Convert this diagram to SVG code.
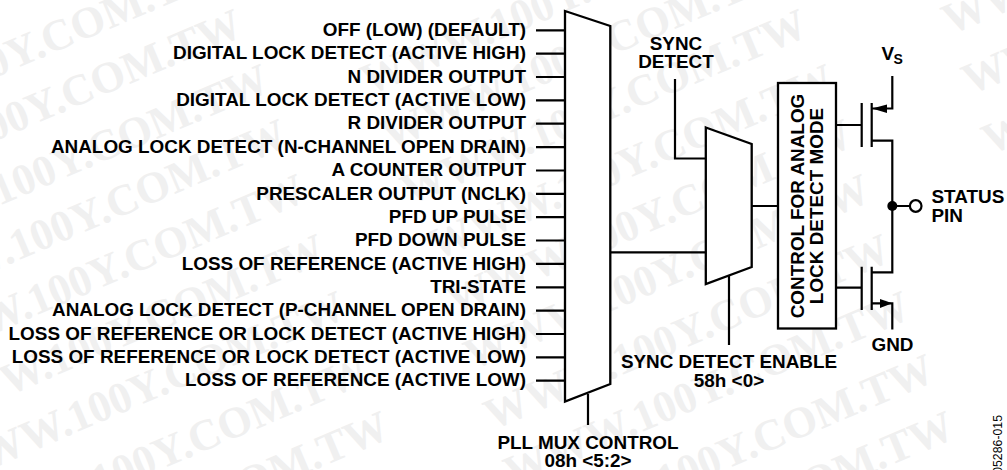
<svg xmlns="http://www.w3.org/2000/svg" width="1007" height="470" viewBox="0 0 1007 470">
<defs><text id="wm" class="w">WWW.100Y.COM.TW</text></defs>
<style>
text{font-family:"Liberation Sans",Arial,sans-serif;font-weight:700;font-size:18.9px;fill:#000}
.r{text-anchor:end}.m{text-anchor:middle}
.w{font-family:"Liberation Serif","Times New Roman",serif;font-size:44px;fill:#f0f0f0;text-anchor:end}
.s{text-anchor:start}
.l{fill:none;stroke:#000;stroke-width:2.2}
.b{fill:#fff;stroke:#000;stroke-width:2.3}
</style>
<rect width="1007" height="470" fill="#fff"/>
<g id="watermark">
<text class="w" transform="translate(225,-20) rotate(-23)">WWW.100Y.COM.TW</text>
<text class="w" transform="translate(245,35) rotate(-23)">WWW.100Y.COM.TW</text>
<text class="w" transform="translate(272,90) rotate(-23)">WWW.100Y.COM.TW</text>
<text class="w" transform="translate(290,145) rotate(-23)">WWW.100Y.COM.TW</text>
<text class="w" transform="translate(308,200) rotate(-23)">WWW.100Y.COM.TW</text>
<text class="w" transform="translate(328,260) rotate(-23)">WWW.100Y.COM.TW</text>
<text class="w" transform="translate(348,317) rotate(-23)">WWW.100Y.COM.TW</text>
<text class="w" transform="translate(372,380) rotate(-23)">WWW.100Y.COM.TW</text>
<text class="w" transform="translate(392,437) rotate(-23)">WWW.100Y.COM.TW</text>
<text class="w" transform="translate(770,-75) rotate(-23)">WWW.100Y.COM.TW</text>
<text class="w" transform="translate(790,-20) rotate(-23)">WWW.100Y.COM.TW</text>
<text class="w" transform="translate(810,35) rotate(-23)">WWW.100Y.COM.TW</text>
<text class="w" transform="translate(837,90) rotate(-23)">WWW.100Y.COM.TW</text>
<text class="w" transform="translate(855,145) rotate(-23)">WWW.100Y.COM.TW</text>
<text class="w" transform="translate(873,200) rotate(-23)">WWW.100Y.COM.TW</text>
<text class="w" transform="translate(893,260) rotate(-23)">WWW.100Y.COM.TW</text>
<text class="w" transform="translate(913,317) rotate(-23)">WWW.100Y.COM.TW</text>
<text class="w" transform="translate(937,380) rotate(-23)">WWW.100Y.COM.TW</text>
<text class="w" transform="translate(957,437) rotate(-23)">WWW.100Y.COM.TW</text>
<text class="w s" style="text-anchor:start" transform="translate(950,35) rotate(-23)">WWW.100Y.COM.TW</text>
<text class="w s" style="text-anchor:start" transform="translate(970,95) rotate(-23)">WWW.100Y.COM.TW</text>
<text class="w s" style="text-anchor:start" transform="translate(990,155) rotate(-23)">WWW.100Y.COM.TW</text>
</g>
<g id="connectors" class="l">
<path d="M536 30.3H565M536 53.7H565M536 77H565M536 100.4H565M536 123.7H565M536 147.1H565M536 170.5H565M536 193.8H565M536 217.2H565M536 240.5H565M536 263.9H565M536 287.3H565M536 310.6H565M536 334H565M536 357.3H565M536 380.7H565"/>
<path d="M588 394V425M610 252.3H706M675 79V158.5H706M752 206H778M729 276V345"/>
<path d="M836 125H862M872 108.5H892.3V76M872 140.7H892.3V272.3H872M836 287.7H862M872 303.3H892.3V329.5M892.3 206H910"/>
</g>
<g id="mux-main"><polygon class="b" points="565,11 610.3,26 610.3,384 565,401.5"/></g>
<g id="mux-sync"><polygon class="b" points="705.8,127.5 751.7,144 751.7,267 705.8,284"/></g>
<g id="control-box">
<rect class="b" x="778" y="83" width="58" height="245.5"/>
<text class="m" transform="translate(804,206) rotate(-90)">CONTROL FOR ANALOG</text>
<text class="m" transform="translate(822.7,206) rotate(-90)">LOCK DETECT MODE</text>
</g>
<g id="fet-upper">
<path class="l" d="M861.7 103V147M871.7 103V147"/>
<polygon points="872,108.5 887,104.5 887,113"/>
</g>
<g id="fet-lower">
<path class="l" d="M861.7 266.7V310M871.7 266.7V310"/>
<polygon points="892.3,303.3 880,299 880,308"/>
</g>
<g id="status-pin">
<circle cx="892.3" cy="206" r="5"/>
<circle cx="915.7" cy="206" r="5.8" fill="#fff" stroke="#000" stroke-width="2.2"/>
<text x="931.5" y="203">STATUS</text>
<text x="931.5" y="222">PIN</text>
</g>
<g id="inputs">
<text class="r" x="526" y="36">OFF (LOW) (DEFAULT)</text>
<text class="r" x="526" y="59.4">DIGITAL LOCK DETECT (ACTIVE HIGH)</text>
<text class="r" x="526" y="82.7">N DIVIDER OUTPUT</text>
<text class="r" x="526" y="106.1">DIGITAL LOCK DETECT (ACTIVE LOW)</text>
<text class="r" x="526" y="129.4">R DIVIDER OUTPUT</text>
<text class="r" x="526" y="152.8">ANALOG LOCK DETECT (N-CHANNEL OPEN DRAIN)</text>
<text class="r" x="526" y="176.2">A COUNTER OUTPUT</text>
<text class="r" x="526" y="199.5">PRESCALER OUTPUT (NCLK)</text>
<text class="r" x="526" y="222.9">PFD UP PULSE</text>
<text class="r" x="526" y="246.2">PFD DOWN PULSE</text>
<text class="r" x="526" y="269.6">LOSS OF REFERENCE (ACTIVE HIGH)</text>
<text class="r" x="526" y="293">TRI-STATE</text>
<text class="r" x="526" y="316.3">ANALOG LOCK DETECT (P-CHANNEL OPEN DRAIN)</text>
<text class="r" x="526" y="339.7">LOSS OF REFERENCE OR LOCK DETECT (ACTIVE HIGH)</text>
<text class="r" x="526" y="363">LOSS OF REFERENCE OR LOCK DETECT (ACTIVE LOW)</text>
<text class="r" x="526" y="386.4">LOSS OF REFERENCE (ACTIVE LOW)</text>
</g>
<g id="labels">
<text class="m" x="676" y="50">SYNC</text>
<text class="m" x="676" y="68">DETECT</text>
<text x="881.5" y="60">V</text>
<text x="893.5" y="63.5" style="font-size:14px">S</text>
<text class="m" x="892.5" y="350.7">GND</text>
<text class="m" x="729" y="368">SYNC DETECT ENABLE</text>
<text class="m" x="729" y="387">58h &lt;0&gt;</text>
<text class="m" x="588" y="449">PLL MUX CONTROL</text>
<text class="m" x="588" y="467">08h &lt;5:2&gt;</text>
<text class="r" transform="translate(1001.7,415) rotate(-90)" style="font-weight:400;font-size:12.3px">05286-015</text>
</g>
</svg>
